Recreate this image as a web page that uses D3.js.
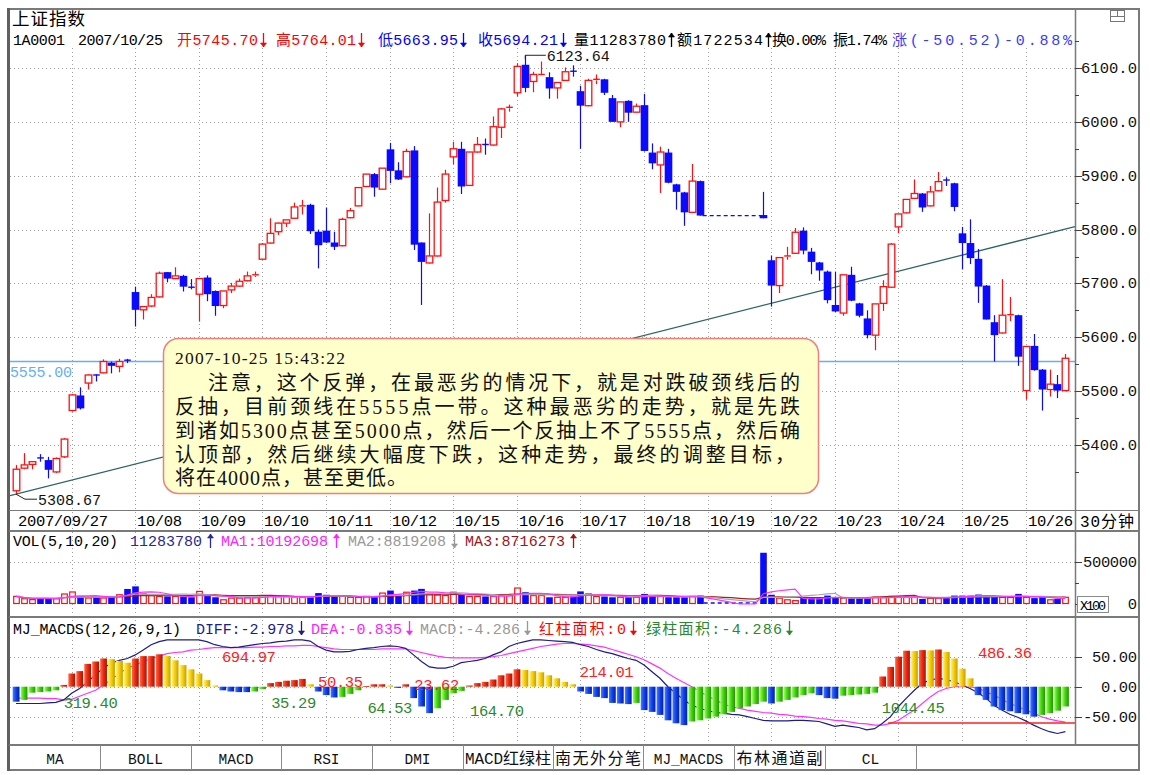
<!DOCTYPE html>
<html><head><meta charset="utf-8">
<script src="https://cdn.jsdelivr.net/npm/d3@7/dist/d3.min.js"></script>
<style>html,body{margin:0;padding:0;background:#fff;}</style>
</head><body>
<svg id="chart" width="1150" height="775"></svg>
<script>
// ================= DATA =================
const dayLabels = ["2007/09/27","09/28","10/08","10/09","10/10","10/11","10/12","10/15","10/16","10/17","10/18","10/19","10/22","10/23","10/24","10/25","10/26"];
const dayStartBars = [0,7,15,23,31,39,47,55,63,71,79,87,95,103,111,119,127];
const N7 = [null,null,null,null,null,null,null];

const opens = [5315,5357,5364,5376,5372,5350,5378, 5464,5492,5515,5530,5534,5553,5546,5557.5, 5684,5651,5658,5675,5721,5709,5714,5693, 5680,5711,5686,5659,5688,5695,5705,5715, 5745,5775,5796,5812,5821,5843,5846,5796, 5798,5776,5770,5822,5844,5880,5903,5875, 5949,5910,5898,5947,5776,5738,5751,5854, 5935,5950,5882,5944,5958,5957,5990,6026, 6054,6106,6075,6087,6083,6063,6077,6094, 6057,6030,6077,6079,6044,6000,6039,6018, 6031,5943,5920,5943,5884,5869,5832,5890, ...N7,5827, 5743,5696,5750,5756,5798,5759,5739,5722, 5660,5645,5716,5663,5635,5604,5663,5693, 5805,5831,5858,5867,5844,5872,5892,5886, 5793,5775,5745.70,5696,5628,5608,5641,5641, 5501,5584,5540,5503,5513,5501];
const highs = [5363,5385,5370,5383,5378,5377,5413, 5495,5507,5531,5531,5559,5555,5560,5560, 5694,5657,5680,5722,5721,5730,5716,5708, 5710,5715,5687,5686,5701,5709,5722,5722, 5775,5821,5813,5818,5850,5855,5848,5800, 5841,5796,5822,5840,5878,5903,5905,5914, 5961,5925,5950,5955,5776,5830,5878,5911, 5963,5963,5944,5972,5969,6010,6026,6032, 6109,6123.64,6093,6112,6092,6074,6101,6105, 6067,6080,6088,6080,6050,6037,6040,6034, 6052,5960,5954,5950,5885,5870,5922,5891, ...N7,5870, 5752,5749,5768,5803,5804,5766,5740,5724, 5722,5716,5731,5664,5650,5662,5706,5775, 5829,5856,5893,5868,5881,5907,5897,5887, 5805,5819,5764.01,5697,5641,5708,5675,5642, 5583,5606,5541,5540,5530,5569];
const lows = [5308.67,5355,5355,5369,5338,5348,5376, 5462,5466,5503,5518,5533,5533,5535,5552, 5620,5633,5656,5674,5702,5708,5685,5689, 5629,5667,5640,5654,5682,5694,5704,5712, 5744,5774,5790,5805,5820,5828,5792,5728, 5775,5762,5769,5821,5843,5879,5861,5874, 5886,5892,5897,5762,5660,5737,5750,5850, 5921,5866,5881,5943,5939,5956,5970,6019, 6047,6055,6055,6086,6043,6043,6076,6084, 5950,6029,6070,6050,6000,5990,6000,6017, 5945,5912,5868,5886,5837,5807,5831,5826, ...N7,5821, 5657,5682,5744,5755,5754,5717,5705,5663, 5647,5640,5667,5637,5598,5576,5649,5692, 5793,5830,5857,5833,5843,5871,5881,5834, 5726,5736,5663.95,5633,5555,5607,5630,5547, 5484,5538,5464,5490,5487,5500];
const closes = [5355,5363,5369,5375.5,5354,5375,5411, 5493,5468,5530,5529,5555,5547,5555,5557, 5651,5657,5674,5719,5709,5714,5694,5692.5, 5709,5680,5658,5686,5695,5704,5714,5716, 5773,5793,5812,5818,5842,5844,5797,5771, 5776,5768,5819,5835,5878,5903,5878,5914, 5909,5893,5945,5772,5740,5751,5851,5903, 5950,5880,5944,5958,5957.5,5991,6024,6027, 6103,6063,6088,6088,6062,6073,6093,6093.5, 6030,6077,6079,6054,6000,6037,6017,6029, 5946,5923,5944,5887,5870,5832,5890,5826, ...N7,5821, 5696,5748,5751,5795,5761,5740,5724,5669, 5648,5716,5668,5640,5604,5662,5694,5773, 5829,5856,5867,5841,5870,5889,5890,5842, 5775,5747,5694.21,5633,5604,5641,5642,5564, 5583,5539,5503,5513,5501,5561];
// volume in axis units (x100)
const volumes = [91000,63000,52000,60000,71000,63000,119000, 143000,91000,71000,80000,71000,91000,110000,179000, 210000,120000,100000,90000,90000,90000,90000,80000, 150000,100000,80000,50000,70000,70000,80000,80000, 100000,100000,90000,90000,80000,80000,80000,130000, 110000,90000,90000,80000,80000,90000,80000,130000, 160000,110000,140000,160000,180000,120000,110000,100000, 140000,110000,90000,90000,90000,90000,100000,100000, 190000,140000,100000,100000,80000,80000,80000,90000, 150000,120000,90000,90000,80000,80000,80000,80000, 120000,100000,90000,80000,80000,80000,90000,100000, 0,0,0,0,0,0,0,610000, 110000,70000,50000,40000,70000,80000,70000,100000, 70000,70000,70000,70000,70000,80000,80000,90000, 90000,90000,80000,60000,70000,70000,80000,100000, 100000,100000,112838,90000,90000,80000,80000,120000, 80000,70000,80000,50000,60000,80000];
const macdHist = [-25,-22,-10,-9,-8,-6,3, 22,26,38,42,47,46,43,40, 47,51,51,54,51,44,36,29, 22,11,2,-6,-8,-9,-9,-8, -4,6,8,10,11,13,4,-8, -14,-18,-17,-12,-6,1,4,4, 2,-2,4,-19,-33,-44,-36,-22, -11,-7,2,6,8,12,19,22, 29,28,26,24,19,14,8,4, -8,-12,-17,-19,-27,-28,-29,-27, -39,-42,-47,-56,-61,-64,-58,-56, -53,-50,-46,-42,-36,-33,-29,-25, -28,-25,-22,-18,-14,-11,-14,-19, -20,-15,-14,-13,-12,-10,17,33, 50,60,59.5,61,60.5,62,58,47, 30,14,-14,-22,-33,-39,-41,-44, -46,-50,-47,-44,-40,-33];
const diffLine = [-28,-28,-28,-28,-27,-26,-22, -11,-3,8,20,31,39,44,47, 53,61,70,75,78,78,78,78, 78,75,70,67,65,66,68,70, 72,73,75,76,78,78,76,67, 61,58,58,59,62,64,65,67, 68,67,64,53,42,33,31,31, 34,40,42,44,47,53,58,67, 72,75,78,78,77,76,75,74, 70,67,62,58,55,51,47,44, 36,25,14,0,-11,-22,-31,-36, -40,-43,-44,-46,-47,-50,-53,-56, -57,-57,-57,-56,-56,-57,-58,-62, -66,-64,-66,-68,-72,-70,-61,-50, -33,-19,-6,6,11,14,12,8, 3,-3,-10,-19,-31,-39,-46,-51, -57,-64,-70,-75,-78,-75];
const deaLine = [-19,-19,-19,-19,-20,-20,-22, -21,-16,-11,-6,3,12,22,31, 36,42,47,51,55,57,58,61, 62,64,65,65,65,65,65,66, 66,67,67,68,68,69,69,67, 65,63,62,62,62,62,62,63, 63,63,63,60,57,54,51,49, 48,48,48,48,49,50,52,55, 58,61,64,67,69,71,72,72, 71,70,68,66,62,58,54,50, 45,38,31,22,14,7,0,-8, -16,-22,-29,-33,-36,-39,-41,-43, -44,-46,-47,-49,-50,-51,-53,-54, -56,-57,-59,-61,-62,-64,-64,-61, -56,-47,-39,-28,-17,-8,-3,0, 0,0,-3,-8,-14,-21,-28,-33, -39,-44,-50,-54,-57,-59];
const priceTicks = [5400,5500,5600,5700,5800,5900,6000,6100];
const volTicks = [0,500000];
const macdTicks = [-50,0,50];
const necklineValue = 5555;
const trendAnchors = [[0,5308.67],[132,5801]];
const macdRedLevel = {from:109.7, value:-60.5};
const areaLabels = [
  {t:"319.40",bar:6.0,v:-27,up:false},{t:"694.97",bar:25.9,v:49.5,up:true},
  {t:"50.35",bar:38,v:7.8,up:true},{t:"35.29",bar:32.1,v:-27,up:false},
  {t:"64.53",bar:44.2,v:-35.5,up:false},{t:"23.62",bar:50.1,v:2.8,up:true},
  {t:"164.70",bar:57.1,v:-40.5,up:false},{t:"214.01",bar:70.9,v:24.5,up:true},
  {t:"1044.45",bar:108.9,v:-35.5,up:false},{t:"486.36",bar:121,v:56,up:true}];
const tabNames = ["MA","BOLL","MACD","RSI","DMI","MACD红绿柱","南无外分笔","MJ_MACDS","布林通道副","CL"];
const noteLines = ["2007-10-25 15:43:22",
 "注意，这个反弹，在最恶劣的情况下，就是对跌破颈线后的",
 "反抽，目前颈线在5555点一带。这种最恶劣的走势，就是先跌",
 "到诸如5300点甚至5000点，然后一个反抽上不了5555点，然后确",
 "认顶部，然后继续大幅度下跌，这种走势，最终的调整目标，",
 "将在4000点，甚至更低。"];

// ================= LAYOUT =================
const W=1150,H=775, PL=10, PR=1075, AXR=1139;
const mono = "'Liberation Mono','DejaVu Sans Mono','Noto Sans CJK SC',monospace";
const cjk = "'Noto Sans CJK SC','Liberation Sans',sans-serif";
const serif = "'Liberation Serif','Noto Sans CJK SC',serif";
const N = closes.length;
const svg = d3.select('#chart');
svg.append('rect').attr('width',W).attr('height',H).attr('fill','#fff');

const x = d3.scaleLinear().domain([0,N-1]).range([16,1065.4]);
const yP = d3.scaleLinear().domain([5400,6100]).range([445,68]);
const yV = d3.scaleLinear().domain([0,500000]).range([604,562]);
const yM = d3.scaleLinear().domain([-50,50]).range([716.7,656.7]);

const defs = svg.append('defs');
function clip(id,x0,y0,w,h){defs.append('clipPath').attr('id',id).append('rect').attr('x',x0).attr('y',y0).attr('width',w).attr('height',h);}
clip('cMain',PL,47,PR-PL,463); clip('cVol',PL,549,PR-PL,67); clip('cMacd',PL,637,PR-PL,107);
function grad(id,stops){const g=defs.append('linearGradient').attr('id',id).attr('x1','0').attr('x2','1').attr('y1','0').attr('y2','0');
 stops.forEach((c,k)=>g.append('stop').attr('offset',k/(stops.length-1)).attr('stop-color',c));}
grad('gRed',['#ff6a4a','#e82a10','#b01000']);
grad('gYel',['#fff27a','#f5cc00','#c99c00']);
grad('gBlu',['#4a7cff','#1040e8','#0020a8']);
grad('gGrn',['#9cff5a','#40d010','#1f9a00']);

function T(str,xx,yy,o={}){
  const t=svg.append('text').attr('x',xx).attr('y',yy).text(str)
    .attr('font-family',o.ff||mono).attr('font-size',o.fs||14).attr('fill',o.c||'#000');
  if(o.fw) t.attr('font-weight',o.fw);
  if(o.w) t.attr('textLength',o.w).attr('lengthAdjust',o.la||'spacing');
  if(o.a) t.attr('text-anchor',o.a);
  return t;
}
// thin tall arrow like the terminal's bitmap font
function arrow(xx,yc,up,c){
  const g=svg.append('g').attr('stroke',c).attr('fill',c);
  const top=yc-7, bot=yc+7, X=Math.round(xx)+0.5;
  g.append('line').attr('x1',X).attr('x2',X).attr('y1',top).attr('y2',bot).attr('stroke-width',1.3);
  const ty = up?top:bot, d = up?1:-1;
  g.append('path').attr('d',`M${X-3},${ty+4*d}L${X},${ty}L${X+3},${ty+4*d}Z`).attr('stroke-width',0.6);
}

// ---------- grid ----------
const grid = svg.append('g').attr('stroke','#a0a0a0').attr('stroke-width',1).attr('stroke-dasharray','1,3');
priceTicks.forEach(v=>grid.append('line').attr('x1',PL).attr('x2',PR).attr('y1',Math.round(yP(v))+0.5).attr('y2',Math.round(yP(v))+0.5));
dayStartBars.slice(1).forEach(i=>grid.append('line').attr('x1',Math.round(x(i))+0.5).attr('x2',Math.round(x(i))+0.5).attr('y1',48).attr('y2',745));
grid.append('line').attr('x1',PL).attr('x2',PR).attr('y1',Math.round(yV(500000))+0.5).attr('y2',Math.round(yV(500000))+0.5);
macdTicks.forEach(v=>grid.append('line').attr('x1',PL).attr('x2',PR).attr('y1',Math.round(yM(v))+0.5).attr('y2',Math.round(yM(v))+0.5));

// ---------- main panel ----------
const gm = svg.append('g').attr('clip-path','url(#cMain)');
const [a,b]=trendAnchors; const slope=(b[1]-a[1])/(b[0]-a[0]);
const iL=x.invert(PL), iR=x.invert(PR);
gm.append('line').attr('x1',PL).attr('x2',PR).attr('y1',yP(a[1]+slope*(iL-a[0]))).attr('y2',yP(a[1]+slope*(iR-a[0])))
  .attr('stroke','#2e6464').attr('stroke-width',1.3);
gm.append('line').attr('x1',PL).attr('x2',PR).attr('y1',yP(necklineValue)).attr('y2',yP(necklineValue)).attr('stroke','#62b0f5').attr('stroke-width',1.6);
T(necklineValue.toFixed(2),10,yP(necklineValue)+15,{c:'#62b0f5',fs:15,w:62});

const bw=6.6;
d3.range(N).filter(i=>closes[i]!=null).forEach(i=>{
  const up = closes[i]>=opens[i];
  const col = up?'#ff1010':'#0a0aff';
  const cx = Math.round(x(i))+0.5;
  const yt=yP(Math.max(opens[i],closes[i])), yb=yP(Math.min(opens[i],closes[i]));
  const yh=yP(highs[i]), yl=yP(lows[i]);
  const bh=Math.max(yb-yt,1);
  if(up){
    gm.append('line').attr('x1',cx).attr('x2',cx).attr('y1',yh).attr('y2',yt).attr('stroke',col).attr('stroke-width',1.2);
    gm.append('line').attr('x1',cx).attr('x2',cx).attr('y1',yt+bh).attr('y2',yl).attr('stroke',col).attr('stroke-width',1.2);
    if(yb-yt<1.5) gm.append('line').attr('x1',cx-bw/2).attr('x2',cx+bw/2).attr('y1',yt).attr('y2',yt).attr('stroke',col).attr('stroke-width',1.4);
    else gm.append('rect').attr('x',cx-bw/2).attr('y',yt).attr('width',bw).attr('height',bh).attr('fill','#fff').attr('stroke',col).attr('stroke-width',1.3);
  } else {
    gm.append('line').attr('x1',cx).attr('x2',cx).attr('y1',yh).attr('y2',yl).attr('stroke',col).attr('stroke-width',1.2);
    if(yb-yt<1.5) gm.append('line').attr('x1',cx-bw/2).attr('x2',cx+bw/2).attr('y1',yt).attr('y2',yt).attr('stroke',col).attr('stroke-width',1.4);
    else gm.append('rect').attr('x',cx-bw/2-0.5).attr('y',yt).attr('width',bw+1).attr('height',bh).attr('fill',col);
  }
});
const gaps = d3.range(N).filter(i=>closes[i]==null);
if(gaps.length){
  const g0=gaps[0]-1, g1=gaps[gaps.length-1]+1;
  gm.append('line').attr('x1',x(g0)+3).attr('x2',x(g1)-3).attr('y1',yP(closes[g0])).attr('y2',yP(closes[g0]))
    .attr('stroke','#0a0aff').attr('stroke-width',1.3).attr('stroke-dasharray','4,3');
}
const iMax=d3.maxIndex(highs), iMin=d3.minIndex(lows);
gm.append('path').attr('d',`M${x(iMax)+0.5},${yP(highs[iMax])+4}V${yP(highs[iMax])}H${x(iMax)+21}`).attr('fill','none').attr('stroke','#222').attr('stroke-width',1);
T(highs[iMax].toFixed(2),x(iMax)+22,yP(highs[iMax])+6,{fs:15,c:'#111',w:63});
gm.append('path').attr('d',`M${x(iMin)},${yP(lows[iMin])}L${x(iMin)+9},${yP(lows[iMin])+5}H${x(iMin)+21}`).attr('fill','none').attr('stroke','#222').attr('stroke-width',1);
T(lows[iMin].toFixed(2),x(iMin)+22,yP(lows[iMin])+11,{fs:15,c:'#111',w:63});

// note box
svg.append('rect').attr('x',163.5).attr('y',338.5).attr('width',655).attr('height',155).attr('rx',15)
  .attr('fill','#ffffcc').attr('stroke','#ef7f7f').attr('stroke-width',1.5);
const noteX=[175,208,175,175,175,175], noteW=[170,592,625,625,620,232], noteY=[364,390,414,438,462,485];
noteLines.forEach((s,k)=>T(s,noteX[k],noteY[k],{ff:serif,fs:k?20:17.5,c:'#111',w:noteW[k]}));

// ---------- volume panel ----------
const gv = svg.append('g').attr('clip-path','url(#cVol)');
d3.range(N).filter(i=>closes[i]!=null && volumes[i]>0).forEach(i=>{
  const up=closes[i]>=opens[i]; const cx=Math.round(x(i))+0.5; const vw=5.6;
  const yt=yV(volumes[i]), h=yV(0)-yt;
  if(up) gv.append('rect').attr('x',cx-vw/2).attr('y',yt).attr('width',vw).attr('height',h-0.5).attr('fill','#fff').attr('stroke','#ff1010').attr('stroke-width',1.2);
  else gv.append('rect').attr('x',cx-vw/2-0.5).attr('y',yt).attr('width',vw+1).attr('height',h).attr('fill','#0a0aff');
});
if(gaps.length){
  gv.append('line').attr('x1',x(gaps[0]-1)+4).attr('x2',x(gaps[gaps.length-1]+1)-4).attr('y1',yV(0)-1).attr('y2',yV(0)-1)
    .attr('stroke','#0a0aff').attr('stroke-width',1.3).attr('stroke-dasharray','4,3');
}
function movAvg(arr,n){return arr.map((_,i)=>d3.mean(arr.slice(Math.max(0,i-n+1),i+1)));}
const lineV=d3.line().x((d,i)=>x(i)).y(d=>yV(d));
[[20,'#a52020'],[10,'#a8a8a8'],[5,'#ff33ff']].forEach(([n,c])=>{
  gv.append('path').attr('d',lineV(movAvg(volumes,n))).attr('fill','none').attr('stroke',c).attr('stroke-width',1.2);
});

// ---------- MACD panel ----------
const gc = svg.append('g').attr('clip-path','url(#cMacd)');
const lineM=d3.line().x((d,i)=>x(i)).y(d=>yM(d));
gc.append('path').attr('d',lineM(deaLine)).attr('fill','none').attr('stroke','#ff33ff').attr('stroke-width',1.2);
gc.append('path').attr('d',lineM(diffLine)).attr('fill','none').attr('stroke','#1c1c8a').attr('stroke-width',1.2);
macdHist.forEach((v,i)=>{
  const prev = i? macdHist[i-1] : v;
  let f;
  if(v>=0) f = (v>=prev)?'url(#gRed)':'url(#gYel)';
  else f = (v<=prev)?'url(#gBlu)':'url(#gGrn)';
  const y0=yM(0), y1=yM(v);
  gc.append('rect').attr('x',x(i)-3.3).attr('y',Math.min(y0,y1)).attr('width',6.8).attr('height',Math.max(Math.abs(y1-y0),0.8)).attr('fill',f);
});
gc.append('line').attr('x1',x(macdRedLevel.from)).attr('x2',PR).attr('y1',yM(macdRedLevel.value)).attr('y2',yM(macdRedLevel.value)).attr('stroke','#ff2020').attr('stroke-width',1.6);
areaLabels.forEach(d=>T(d.t,x(d.bar),yM(d.v)+5,{fs:15.5,c:d.up?'#ff2020':'#2a8a2a',w:d.t.length*9}));

// ---------- frame ----------
const fr = svg.append('g').attr('stroke','#7a7a7a').attr('fill','none');
fr.append('rect').attr('x',9).attr('y',9).attr('width',AXR-9).attr('height',761).attr('stroke-width',2);
fr.append('line').attr('x1',8.5).attr('x2',8.5).attr('y1',8).attr('y2',771).attr('stroke-width',3).attr('stroke','#606060');
fr.append('line').attr('x1',PR+0.5).attr('x2',PR+0.5).attr('y1',9).attr('y2',745).attr('stroke-width',1.5);
[[510.5,1],[531,2],[617,2],[745,2]].forEach(([yy,sw])=>fr.append('line').attr('x1',9).attr('x2',AXR).attr('y1',yy).attr('y2',yy).attr('stroke-width',sw));
svg.append('rect').attr('x',1110.5).attr('y',10.5).attr('width',14).attr('height',11).attr('fill','#fff').attr('stroke','#777');
svg.append('line').attr('x1',1110.5).attr('x2',1124.5).attr('y1',16.5).attr('y2',16.5).attr('stroke','#777');
svg.append('line').attr('x1',1117.5).attr('x2',1117.5).attr('y1',10.5).attr('y2',16.5).attr('stroke','#777');

// ---------- right axes ----------
const ax = svg.append('g').attr('stroke','#444');
priceTicks.forEach(v=>{
  ax.append('line').attr('x1',PR).attr('x2',PR+7).attr('y1',Math.round(yP(v))+0.5).attr('y2',Math.round(yP(v))+0.5);
  ax.append('line').attr('x1',PR).attr('x2',PR+4).attr('y1',Math.round(yP(v+50))+0.5).attr('y2',Math.round(yP(v+50))+0.5);
  T(v.toFixed(1),AXR-2,yP(v)+5,{fs:15.5,a:'end',c:'#111',w:56});
});
ax.append('line').attr('x1',PR).attr('x2',PR+4).attr('y1',Math.round(yP(5350))+0.5).attr('y2',Math.round(yP(5350))+0.5);
volTicks.forEach(v=>{
  ax.append('line').attr('x1',PR).attr('x2',PR+7).attr('y1',Math.round(yV(v))+0.5).attr('y2',Math.round(yV(v))+0.5);
  T(String(v),AXR-2,yV(v)+5,{fs:15.5,a:'end',c:'#111',w:String(v).length*9});
});
ax.append('line').attr('x1',PR).attr('x2',PR+4).attr('y1',Math.round(yV(250000))+0.5).attr('y2',Math.round(yV(250000))+0.5);
svg.append('rect').attr('x',1077.5).attr('y',596.5).attr('width',31).attr('height',16).attr('fill','#fff').attr('stroke','#8a8a8a');
T('X100',1080,609.5,{fs:13.5,w:26});
macdTicks.forEach(v=>{
  ax.append('line').attr('x1',PR).attr('x2',PR+7).attr('y1',Math.round(yM(v))+0.5).attr('y2',Math.round(yM(v))+0.5);
  T(v.toFixed(2),AXR-2,yM(v)+5,{fs:15.5,a:'end',c:'#111',w:v.toFixed(2).length*9});
});

// ---------- date row ----------
let lastEnd=-1;
dayStartBars.forEach((bb,k)=>{
  const xx = k===0 ? 18 : Math.round(x(bb))+2;
  const s = dayLabels[k]; const w = s.length*9;
  if(xx < lastEnd+4) return;
  T(s,xx,526,{fs:15.5,w:w}); lastEnd = xx+w;
});
T('30分钟',1080,527,{fs:16,w:54});

// ---------- header texts ----------
T('上证指数',12,25,{ff:cjk,fs:17.5,w:73});
const hdr=[['1A0001',13,52,'#000'],['2007/10/25',78,85,'#000'],['开5745.70',177,81,'#f00',0],['高5764.01',276,80,'#f00',0],
 ['低5663.95',378,80,'#00f',0],['收5694.21',478,80,'#00f',0],['量11283780',574,92,'#000',1],
 ['额1722534',677,86,'#000',1],['换0.00%',772,54,'#000'],['振1.74%',833,54,'#000'],['涨(-50.52)-0.88%',892,180,'#3a3aff']];
hdr.forEach(([s,xx,w,c,ar])=>{T(s,xx,45,{fs:15,c:c,w:w}); if(ar!==undefined) arrow(xx+w+5,40,ar===1,c);});
const vh=[['VOL(5,10,20)',13,105,'#000'],['11283780',130,72,'#2a2a90',1],['MA1:10192698',221,107,'#ff22ff',1],
 ['MA2:8819208',348,98,'#999',0],['MA3:8716273',465,100,'#a01515',1]];
vh.forEach(([s,xx,w,c,ar])=>{T(s,xx,546,{fs:15,c:c,w:w}); if(ar!==undefined) arrow(xx+w+8,541,ar===1,c);});
const mh=[['MJ_MACDS(12,26,9,1)',13,168,'#000'],['DIFF:-2.978',196,98,'#1c1c8a',0],['DEA:-0.835',311,91,'#ff22ff',0],
 ['MACD:-4.286',420,100,'#999',0],['红柱面积:0',539,87,'#f00',0],['绿柱面积:-4.286',646,136,'#2a8a2a',0]];
mh.forEach(([s,xx,w,c,ar])=>{T(s,xx,634,{fs:15,c:c,w:w}); if(ar!==undefined) arrow(xx+w+7,628,ar===1,c);});

// ---------- tabs ----------
const tabEdges=[10,100,191,281,372,463,553,643,734,825,916];
tabEdges.slice(1).forEach(e=>svg.append('line').attr('x1',e+0.5).attr('x2',e+0.5).attr('y1',745).attr('y2',770).attr('stroke','#8a8a8a').attr('stroke-width',1));
tabNames.forEach((s,k)=>{
  const cx=(tabEdges[k]+tabEdges[k+1])/2;
  const hasCjk=/[^\x00-\x7f]/.test(s);
  T(s,cx,764,{fs:hasCjk?16:14.5,a:'middle',c:'#111',w:hasCjk?86:undefined});
});
</script>
</body></html>
